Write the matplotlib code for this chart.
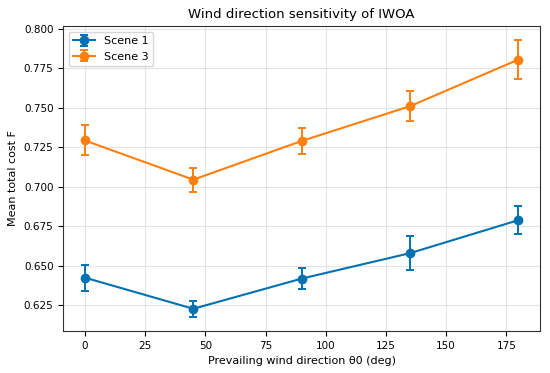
import matplotlib
matplotlib.use("Agg")
import matplotlib.pyplot as plt

angles = [0, 45, 90, 135, 180]
scene1_mean = [0.6425, 0.6228, 0.6419, 0.6580, 0.6789]
scene1_err = [0.0083, 0.0052, 0.0066, 0.0108, 0.0088]
scene3_mean = [0.7293, 0.7045, 0.7290, 0.7510, 0.7805]
scene3_err = [0.0095, 0.0075, 0.0085, 0.0095, 0.0124]

fig, ax = plt.subplots(figsize=(5.5, 3.73), dpi=100)
ax.errorbar(angles, scene1_mean, yerr=scene1_err, color='#0072B2', marker='o',
            markersize=6, linewidth=1.5, capsize=3, elinewidth=1.4, capthick=1.4,
            label='Scene 1')
ax.errorbar(angles, scene3_mean, yerr=scene3_err, color='#FF7F0E', marker='o',
            markersize=6, linewidth=1.5, capsize=3, elinewidth=1.4, capthick=1.4,
            label='Scene 3')
ax.set_xticks([0, 25, 50, 75, 100, 125, 150, 175])
ax.set_yticks([0.625, 0.650, 0.675, 0.700, 0.725, 0.750, 0.775, 0.800])
ax.grid(True, color='#d9d9d9', linewidth=0.8, alpha=0.7)
ax.set_axisbelow(True)
for s in ax.spines.values():
    s.set_color('#333333')
ax.set_xlabel('Prevailing wind direction θ0 (deg)', fontsize=8)
ax.set_ylabel('Mean total cost F', fontsize=8)
ax.set_title('Wind direction sensitivity of IWOA', fontsize=9.5)
ax.tick_params(labelsize=7.5)
ax.legend(loc='upper left', fontsize=8)
fig.subplots_adjust(left=0.115, right=0.982, top=0.93, bottom=0.113)
fig.savefig('out.png', dpi=100)
